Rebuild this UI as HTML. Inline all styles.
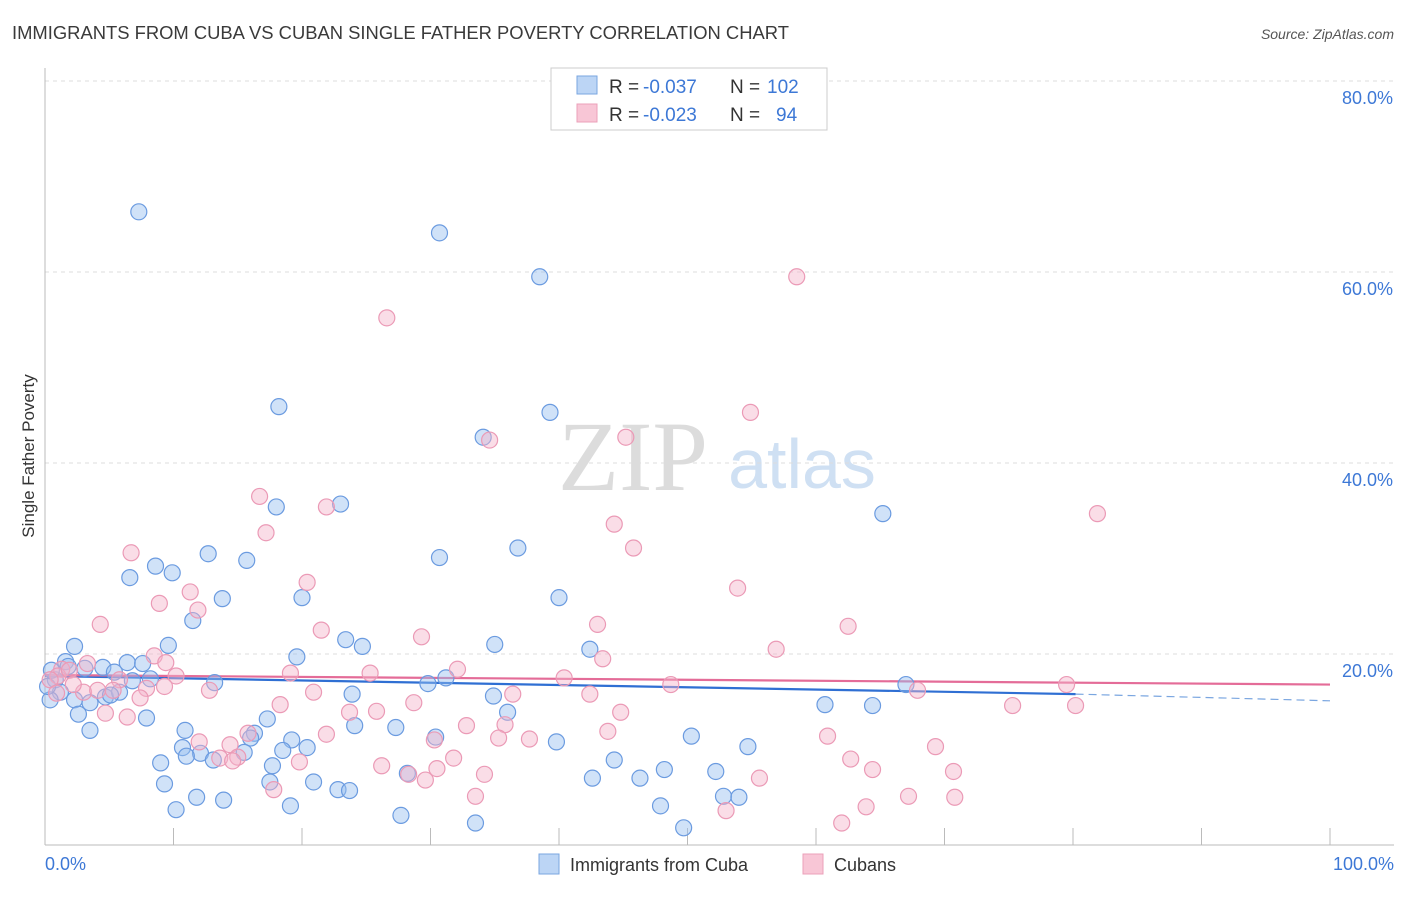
<!DOCTYPE html>
<html><head><meta charset="utf-8"><style>
body{margin:0;background:#fff;font-family:"Liberation Sans",sans-serif}
</style></head><body>
<svg id="chart" width="1406" height="892" xmlns="http://www.w3.org/2000/svg" font-family="Liberation Sans, sans-serif">
<text x="12" y="39" font-size="18.4" fill="#3a3a3a">IMMIGRANTS FROM CUBA VS CUBAN SINGLE FATHER POVERTY CORRELATION CHART</text>
<text x="1394" y="39" font-size="14" font-style="italic" fill="#555" text-anchor="end">Source: ZipAtlas.com</text>
<text x="633" y="490" font-size="100" style="font-family:'Liberation Serif',serif" fill="#dcdcdc" text-anchor="middle">ZIP</text>
<text x="802" y="488" font-size="70" fill="#cfe0f3" text-anchor="middle">atlas</text>
<g id="grid"></g><g id="axes"></g><g id="trend"></g><g id="points"></g>
<text transform="translate(34,456) rotate(-90)" font-size="17" fill="#333" text-anchor="middle">Single Father Poverty</text>
<g>
<rect x="551" y="68" width="276" height="62" fill="#fff" stroke="#ccc"/>
<rect x="577" y="76" width="20" height="18" fill="#bcd5f5" stroke="#7aa6e0"/>
<rect x="577" y="104" width="20" height="18" fill="#f8c6d6" stroke="#eba0b9"/>
<text x="609" y="93" font-size="19" fill="#333">R =</text>
<text x="643" y="93" font-size="19" fill="#3d78d6">-0.037</text>
<text x="730" y="93" font-size="19" fill="#333">N =</text>
<text x="767" y="93" font-size="19" fill="#3d78d6">102</text>
<text x="609" y="121" font-size="19" fill="#333">R =</text>
<text x="643" y="121" font-size="19" fill="#3d78d6">-0.023</text>
<text x="730" y="121" font-size="19" fill="#333">N =</text>
<text x="776" y="121" font-size="19" fill="#3d78d6">94</text>
</g>
<g>
<rect x="539" y="854" width="20" height="20" fill="#bcd5f5" stroke="#7aa6e0"/>
<text x="570" y="871" font-size="18" fill="#333">Immigrants from Cuba</text>
<rect x="803" y="854" width="20" height="20" fill="#f8c6d6" stroke="#eba0b9"/>
<text x="834" y="871" font-size="18" fill="#333">Cubans</text>
</g>
</svg>
<script>
const yTicks=[20,40,60,80];
const yTickLabels=["20.0%","40.0%","60.0%","80.0%"];
const xTicks=[0,10,20,30,40,50,60,70,80,90,100];
const xEndLabels=["0.0%","100.0%"];
const blueX=[7.3,30.7,38.5,18.2,39.3,34.1,23.0,18.0,65.2,36.8,12.7,15.7,30.7,6.6,8.6,9.9,13.8,20.0,40.0,11.5,9.6,2.3,23.4,24.7,35.0,42.4,19.6,1.6,3.1,4.5,6.4,7.6,5.4,0.8,1.2,2.3,3.5,4.7,5.8,8.2,6.8,13.2,29.8,31.2,23.9,34.9,67.0,60.7,64.4,36.0,2.6,7.9,3.5,17.3,10.9,16.3,24.1,27.3,30.4,16.0,19.2,39.8,50.3,15.5,18.5,20.4,10.7,12.1,13.1,9.0,17.7,11.0,54.7,44.3,48.2,52.2,42.6,46.3,17.5,20.9,28.2,22.8,23.7,9.3,11.8,13.9,19.1,52.8,54.0,47.9,10.2,27.7,33.5,49.7,0.4,0.2,0.5,1.8,5.1];
const blueY=[66.3,64.1,59.5,45.9,45.3,42.7,35.7,35.4,34.7,31.1,30.5,29.8,30.1,28.0,29.2,28.5,25.8,25.9,25.9,23.5,20.9,20.8,21.5,20.8,21.0,20.5,19.7,19.2,18.5,18.6,19.1,19.0,18.1,17.3,16.0,15.2,14.9,15.5,16.0,17.4,17.2,17.0,16.9,17.5,15.8,15.6,16.8,14.7,14.6,13.9,13.7,13.3,12.0,13.2,12.0,11.7,12.5,12.3,11.3,11.2,11.0,10.8,11.4,9.7,9.9,10.2,10.2,9.6,8.9,8.6,8.3,9.3,10.3,8.9,7.9,7.7,7.0,7.0,6.6,6.6,7.5,5.8,5.7,6.4,5.0,4.7,4.1,5.1,5.0,4.1,3.7,3.1,2.3,1.8,15.2,16.6,18.3,18.7,15.7];
const pinkX=[58.5,26.6,54.9,34.6,45.2,16.7,21.9,81.9,44.3,17.2,45.8,6.7,20.4,53.9,11.3,8.9,11.9,4.3,21.5,43.0,62.5,29.3,56.9,8.5,9.4,1.3,1.0,3.3,5.8,10.2,25.3,32.1,43.4,19.1,40.4,48.7,3.0,4.1,7.9,12.8,20.9,36.4,42.4,67.9,79.5,80.2,75.3,18.3,28.7,23.7,25.8,44.8,6.4,4.7,7.4,35.8,32.8,21.9,35.3,37.7,43.8,60.9,69.3,14.4,12.0,15.0,13.6,14.6,62.7,19.8,26.2,28.3,30.5,31.8,34.2,29.6,55.6,64.4,70.7,33.5,17.8,67.2,70.8,53.0,63.9,62.0,1.9,2.2,0.4,0.9,9.3,5.3,15.8,30.3];
const pinkY=[59.5,55.2,45.3,42.4,42.7,36.5,35.4,34.7,33.6,32.7,31.1,30.6,27.5,26.9,26.5,25.3,24.6,23.1,22.5,23.1,22.9,21.8,20.5,19.8,19.1,18.4,17.7,19.0,17.3,17.7,18.0,18.4,19.5,18.0,17.5,16.8,16.0,16.2,16.4,16.2,16.0,15.8,15.8,16.2,16.8,14.6,14.6,14.7,14.9,13.9,14.0,13.9,13.4,13.8,15.4,12.6,12.5,11.6,11.2,11.1,11.9,11.4,10.3,10.5,10.8,9.2,9.1,8.8,9.0,8.7,8.3,7.4,8.0,9.1,7.4,6.8,7.0,7.9,7.7,5.1,5.8,5.1,5.0,3.6,4.0,2.3,18.3,16.8,17.3,15.9,16.6,16.2,11.7,11.0];
const blueTrend=[17.7,15.8,15.1];
const blueTrendX=[0,80.2,100];
const pinkTrend=[17.8,16.8];
const NS="http://www.w3.org/2000/svg";
const X=v=>45+v*12.85, Y=v=>845-v*9.55;
function mk(tag,attrs,parent){const e=document.createElementNS(NS,tag);for(const k in attrs)e.setAttribute(k,attrs[k]);document.getElementById(parent).appendChild(e);return e;}
let e=mk('line',{x1:45,x2:1394,y1:Y(80),y2:Y(80),stroke:'#ddd','stroke-dasharray':'4,4'},'grid');


yTicks.forEach((t,i)=>{
 const g=mk('line',{x1:45,x2:1394,y1:Y(t),y2:Y(t),stroke:'#ddd','stroke-dasharray':'4,4'},'grid');
 
 
 const l=mk('text',{x:1393,y:Y(t)+23,'font-size':18,fill:'#3d78d6','text-anchor':'end'},'axes');l.textContent=yTickLabels[i];
 
 
});
e=mk('line',{x1:45,x2:45,y1:68,y2:845,stroke:'#bbb'},'axes');


e=mk('line',{x1:45,x2:1394,y1:845,y2:845,stroke:'#bbb'},'axes');


xTicks.forEach(t=>{const k=mk('line',{x1:X(t),x2:X(t),y1:828,y2:845,stroke:'#bbb'},'axes');
 
 });
let l=mk('text',{x:45,y:870,'font-size':18,fill:'#3d78d6'},'axes');l.textContent=xEndLabels[0];


l=mk('text',{x:1394,y:870,'font-size':18,fill:'#3d78d6','text-anchor':'end'},'axes');l.textContent=xEndLabels[1];


blueX.forEach((v,i)=>{const c=mk('circle',{cx:X(v),cy:Y(blueY[i]),r:8,fill:'rgba(150,190,240,0.45)',stroke:'#6b9be0','stroke-width':1.2},'points');
 
 });
pinkX.forEach((v,i)=>{const c=mk('circle',{cx:X(v),cy:Y(pinkY[i]),r:8,fill:'rgba(245,180,202,0.45)',stroke:'#eb9ab6','stroke-width':1.2},'points');
 
 });
e=mk('line',{x1:X(blueTrendX[0]),y1:Y(blueTrend[0]),x2:X(blueTrendX[1]),y2:Y(blueTrend[1]),stroke:'#2f6fd3','stroke-width':2.2},'trend');


e=mk('line',{x1:X(blueTrendX[1]),y1:Y(blueTrend[1]),x2:X(blueTrendX[2]),y2:Y(blueTrend[2]),stroke:'#7aa6e0','stroke-width':1.2,'stroke-dasharray':'8,5'},'trend');


e=mk('line',{x1:X(0),y1:Y(pinkTrend[0]),x2:X(100),y2:Y(pinkTrend[1]),stroke:'#e46c98','stroke-width':2.2},'trend');


</script>
</body></html>
